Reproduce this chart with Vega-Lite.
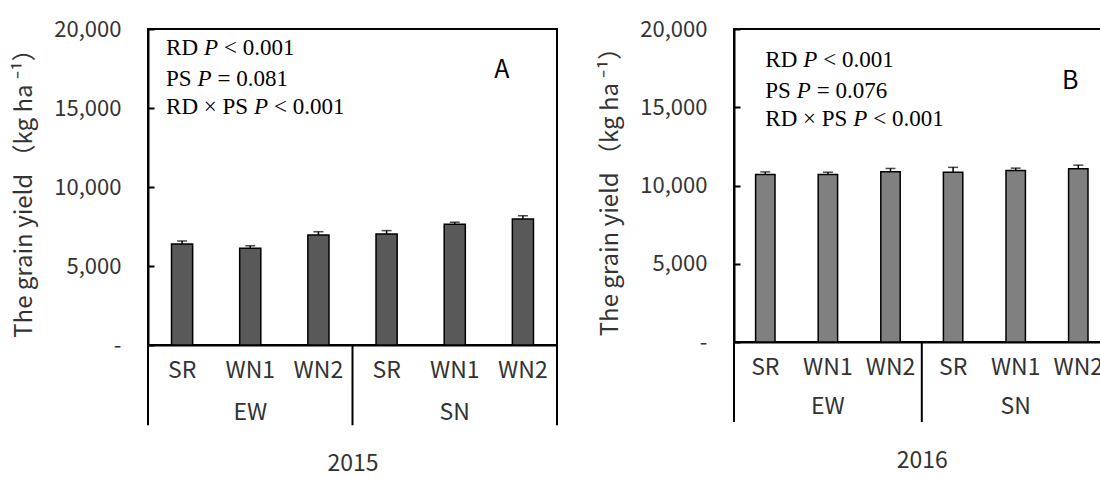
{
  "$schema": "https://vega.github.io/schema/vega-lite/v6.json",
  "background": "white",
  "padding": {"left": 11, "top": 17, "right": 0, "bottom": 0},
  "spacing": 37,
  "datasets": {
    "y2015": [
      {"group": "EW", "trt": "SR", "key": "EW|SR", "yield": 6390, "upper": 6580},
      {"group": "EW", "trt": "WN1", "key": "EW|WN1", "yield": 6120, "upper": 6280},
      {"group": "EW", "trt": "WN2", "key": "EW|WN2", "yield": 6960, "upper": 7170},
      {"group": "SN", "trt": "SR", "key": "SN|SR", "yield": 7020, "upper": 7240},
      {"group": "SN", "trt": "WN1", "key": "SN|WN1", "yield": 7640, "upper": 7770},
      {"group": "SN", "trt": "WN2", "key": "SN|WN2", "yield": 7970, "upper": 8180}
    ],
    "y2016": [
      {"group": "EW", "trt": "SR", "key": "EW|SR", "yield": 10700, "upper": 10870},
      {"group": "EW", "trt": "WN1", "key": "EW|WN1", "yield": 10700, "upper": 10850},
      {"group": "EW", "trt": "WN2", "key": "EW|WN2", "yield": 10880, "upper": 11090},
      {"group": "SN", "trt": "SR", "key": "SN|SR", "yield": 10850, "upper": 11160},
      {"group": "SN", "trt": "WN1", "key": "SN|WN1", "yield": 10960, "upper": 11110},
      {"group": "SN", "trt": "WN2", "key": "SN|WN2", "yield": 11070, "upper": 11300}
    ],
    "one": [{}]
  },
  "config": {
    "view": {"stroke": "black", "strokeWidth": 2},
    "font": "Noto Sans CJK SC",
    "axis": {
      "grid": false,
      "domainColor": "black",
      "domainWidth": 2,
      "labelFont": "Noto Sans CJK SC",
      "labelFontSize": 22,
      "labelColor": "#333333",
      "titleFont": "Noto Sans CJK SC",
      "titleFontSize": 24,
      "titleFontWeight": "normal",
      "titleColor": "#333333"
    },
    "text": {"font": "Liberation Serif", "fontSize": 23, "color": "black", "align": "left", "baseline": "alphabetic"}
  },
  "hconcat": [
    {
      "width": 409,
      "height": 316,
      "encoding": {
        "x": {
          "field": "key", "type": "nominal",
          "sort": ["EW|SR", "EW|WN1", "EW|WN2", "SN|SR", "SN|WN1", "SN|WN2"],
          "scale": {"paddingInner": 0, "paddingOuter": 0},
          "axis": {"title": "2015", "labelExpr": "split(datum.value, '|')[1]", "labelAngle": 0, "ticks": false, "labelPadding": 14, "labelFontSize": 23, "titlePadding": 70, "titleFontSize": 23}
        }
      },
      "layer": [
        {
          "data": {"name": "y2015"},
          "mark": {"type": "bar", "width": {"band": 0.31}, "fill": "#595959", "stroke": "black", "strokeWidth": 1.5},
          "encoding": {
            "y": {
              "field": "yield", "type": "quantitative",
              "scale": {"domain": [0, 20000]},
              "axis": {"values": [0, 5000, 10000, 15000, 20000], "labelExpr": "datum.value == 0 ? '-' : format(datum.value, ',')", "tickSize": -6, "tickColor": "black", "tickWidth": 2, "labelPadding": 33, "title": "The grain yield （kg ha ⁻¹）", "titlePadding": 17}
            }
          }
        },
        {
          "data": {"name": "y2015"},
          "mark": {"type": "rule", "color": "black", "strokeWidth": 1.5},
          "encoding": {"y": {"field": "yield", "type": "quantitative"}, "y2": {"field": "upper"}}
        },
        {
          "data": {"name": "y2015"},
          "mark": {"type": "tick", "color": "black", "size": 10, "thickness": 1.5},
          "encoding": {"y": {"field": "upper", "type": "quantitative"}}
        },
        {
          "data": {"name": "y2015"},
          "transform": [{"filter": "datum.trt == 'SR'"}],
          "mark": {"type": "rule", "color": "black", "strokeWidth": 2},
          "encoding": {"x": {"field": "key", "type": "nominal", "bandPosition": 0}, "y": {"datum": 0}, "y2": {"datum": -5080}}
        },
        {
          "data": {"name": "y2015"},
          "transform": [{"filter": "datum.key == 'SN|WN2'"}],
          "mark": {"type": "rule", "color": "black", "strokeWidth": 2},
          "encoding": {"x": {"field": "key", "type": "nominal", "bandPosition": 1}, "y": {"datum": 0}, "y2": {"datum": -5080}}
        },
        {
          "data": {"name": "y2015"},
          "transform": [{"filter": "datum.trt == 'WN1'"}],
          "mark": {"type": "text", "font": "Noto Sans CJK SC", "fontSize": 23, "color": "#333333", "align": "center", "baseline": "middle", "dy": 68},
          "encoding": {"x": {"field": "key", "type": "nominal"}, "y": {"datum": 0}, "text": {"field": "group"}}
        },
        {"data": {"name": "one"}, "mark": {"type": "text", "text": "RD", "dx": -16}, "encoding": {"x": {"datum": "EW|SR"}, "y": {"datum": 18350}}},
        {"data": {"name": "one"}, "mark": {"type": "text", "text": "P", "fontStyle": "italic", "dx": 22}, "encoding": {"x": {"datum": "EW|SR"}, "y": {"datum": 18350}}},
        {"data": {"name": "one"}, "mark": {"type": "text", "text": "< 0.001", "dx": 42}, "encoding": {"x": {"datum": "EW|SR"}, "y": {"datum": 18350}}},
        {"data": {"name": "one"}, "mark": {"type": "text", "text": "PS", "dx": -16}, "encoding": {"x": {"datum": "EW|SR"}, "y": {"datum": 16400}}},
        {"data": {"name": "one"}, "mark": {"type": "text", "text": "P", "fontStyle": "italic", "dx": 15.5}, "encoding": {"x": {"datum": "EW|SR"}, "y": {"datum": 16400}}},
        {"data": {"name": "one"}, "mark": {"type": "text", "text": "= 0.081", "dx": 35.5}, "encoding": {"x": {"datum": "EW|SR"}, "y": {"datum": 16400}}},
        {"data": {"name": "one"}, "mark": {"type": "text", "text": "RD × PS", "dx": -16}, "encoding": {"x": {"datum": "EW|SR"}, "y": {"datum": 14650}}},
        {"data": {"name": "one"}, "mark": {"type": "text", "text": "P", "fontStyle": "italic", "dx": 72}, "encoding": {"x": {"datum": "EW|SR"}, "y": {"datum": 14650}}},
        {"data": {"name": "one"}, "mark": {"type": "text", "text": "< 0.001", "dx": 92}, "encoding": {"x": {"datum": "EW|SR"}, "y": {"datum": 14650}}},
        {"data": {"name": "one"}, "mark": {"type": "text", "text": "A", "font": "Noto Sans CJK SC", "fontSize": 25, "align": "center", "dx": -21}, "encoding": {"x": {"datum": "SN|WN2"}, "y": {"datum": 16900}}}
      ]
    },
    {
      "width": 375.6,
      "height": 313,
      "encoding": {
        "x": {
          "field": "key", "type": "nominal",
          "sort": ["EW|SR", "EW|WN1", "EW|WN2", "SN|SR", "SN|WN1", "SN|WN2"],
          "scale": {"paddingInner": 0, "paddingOuter": 0},
          "axis": {"title": "2016", "labelExpr": "split(datum.value, '|')[1]", "labelAngle": 0, "ticks": false, "labelPadding": 14, "labelFontSize": 23, "titlePadding": 70, "titleFontSize": 23}
        }
      },
      "layer": [
        {
          "data": {"name": "y2016"},
          "mark": {"type": "bar", "width": {"band": 0.31}, "fill": "#808080", "stroke": "black", "strokeWidth": 1.5},
          "encoding": {
            "y": {
              "field": "yield", "type": "quantitative",
              "scale": {"domain": [0, 20000]},
              "axis": {"values": [0, 5000, 10000, 15000, 20000], "labelExpr": "datum.value == 0 ? '-' : format(datum.value, ',')", "tickSize": -6, "tickColor": "black", "tickWidth": 2, "labelPadding": 33, "title": "The grain yield （kg ha ⁻¹）", "titlePadding": 17}
            }
          }
        },
        {
          "data": {"name": "y2016"},
          "mark": {"type": "rule", "color": "black", "strokeWidth": 1.5},
          "encoding": {"y": {"field": "yield", "type": "quantitative"}, "y2": {"field": "upper"}}
        },
        {
          "data": {"name": "y2016"},
          "mark": {"type": "tick", "color": "black", "size": 10, "thickness": 1.5},
          "encoding": {"y": {"field": "upper", "type": "quantitative"}}
        },
        {
          "data": {"name": "y2016"},
          "transform": [{"filter": "datum.trt == 'SR'"}],
          "mark": {"type": "rule", "color": "black", "strokeWidth": 2},
          "encoding": {"x": {"field": "key", "type": "nominal", "bandPosition": 0}, "y": {"datum": 0}, "y2": {"datum": -5110}}
        },
        {
          "data": {"name": "y2016"},
          "transform": [{"filter": "datum.trt == 'WN1'"}],
          "mark": {"type": "text", "font": "Noto Sans CJK SC", "fontSize": 23, "color": "#333333", "align": "center", "baseline": "middle", "dy": 65},
          "encoding": {"x": {"field": "key", "type": "nominal"}, "y": {"datum": 0}, "text": {"field": "group"}}
        },
        {"data": {"name": "one"}, "mark": {"type": "text", "text": "RD", "dx": 0}, "encoding": {"x": {"datum": "EW|SR"}, "y": {"datum": 17550}}},
        {"data": {"name": "one"}, "mark": {"type": "text", "text": "P", "fontStyle": "italic", "dx": 38}, "encoding": {"x": {"datum": "EW|SR"}, "y": {"datum": 17550}}},
        {"data": {"name": "one"}, "mark": {"type": "text", "text": "< 0.001", "dx": 58}, "encoding": {"x": {"datum": "EW|SR"}, "y": {"datum": 17550}}},
        {"data": {"name": "one"}, "mark": {"type": "text", "text": "PS", "dx": 0}, "encoding": {"x": {"datum": "EW|SR"}, "y": {"datum": 15600}}},
        {"data": {"name": "one"}, "mark": {"type": "text", "text": "P", "fontStyle": "italic", "dx": 31.5}, "encoding": {"x": {"datum": "EW|SR"}, "y": {"datum": 15600}}},
        {"data": {"name": "one"}, "mark": {"type": "text", "text": "= 0.076", "dx": 51.5}, "encoding": {"x": {"datum": "EW|SR"}, "y": {"datum": 15600}}},
        {"data": {"name": "one"}, "mark": {"type": "text", "text": "RD × PS", "dx": 0}, "encoding": {"x": {"datum": "EW|SR"}, "y": {"datum": 13800}}},
        {"data": {"name": "one"}, "mark": {"type": "text", "text": "P", "fontStyle": "italic", "dx": 88}, "encoding": {"x": {"datum": "EW|SR"}, "y": {"datum": 13800}}},
        {"data": {"name": "one"}, "mark": {"type": "text", "text": "< 0.001", "dx": 108}, "encoding": {"x": {"datum": "EW|SR"}, "y": {"datum": 13800}}},
        {"data": {"name": "one"}, "mark": {"type": "text", "text": "B", "font": "Noto Sans CJK SC", "fontSize": 25, "align": "center", "dx": -8}, "encoding": {"x": {"datum": "SN|WN2"}, "y": {"datum": 16150}}}
      ]
    }
  ]
}
